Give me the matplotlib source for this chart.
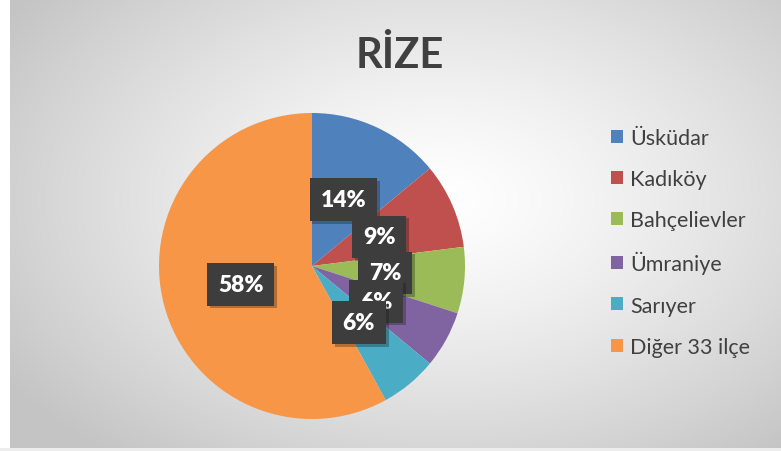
import numpy as np
import matplotlib
matplotlib.use("Agg")
import matplotlib.pyplot as plt
import matplotlib.patheffects as pe

categories = ["Üsküdar", "Kadıköy", "Bahçelievler", "Ümraniye", "Sarıyer", "Diğer 33 ilçe"]
values = [14, 9, 7, 6, 6, 58]
colors = ["#4F81BD", "#C0504D", "#9BBB59", "#8064A2", "#4BACC6", "#F79646"]
title = "RİZE"

plt.rcParams['font.family'] = ['Lato', 'DejaVu Sans']

W, H = 781, 452
fig = plt.figure(figsize=(W / 100, H / 100), dpi=100)

# background radial gradient
bg = fig.add_axes([0, 0, 1, 1])
yy, xx = np.mgrid[0:H, 0:W]
cx, cy = 440, 200
d = np.sqrt(((xx - cx) / 520.0) ** 2 + ((yy - cy) / 330.0) ** 2)
d = np.clip(d, 0, 1)
v = 1.0 - 0.23 * d ** 1.3
img = np.dstack([v, v, v])
img[:, :10, :] = 1.0
img[449:, :, :] = 0.93
bg.imshow(img, extent=[0, W, H, 0], aspect='auto', interpolation='bilinear')
bg.set_xlim(0, W)
bg.set_ylim(H, 0)
bg.axis('off')

# pie
cxp, cyp, r = 312, 267, 153
ax = fig.add_axes([(cxp - r) / W, (H - cyp - r) / H, 2 * r / W, 2 * r / H])
wedges, texts, autotexts = ax.pie(values, colors=colors, startangle=90, counterclock=False,
                                  autopct='%1.0f%%', pctdistance=0.48, radius=1,
                                  wedgeprops=dict(linewidth=0))
ax.set_xlim(-1, 1)
ax.set_ylim(-1, 1)
ax.set_aspect('equal')
ax.axis('off')

for t in autotexts:
    t.set_color('white')
    t.set_fontsize(16.5)
    t.set_fontweight('heavy')
    t.set_bbox(dict(boxstyle='square,pad=0.47', fc='#3d3d3d', ec='none'))
    t.get_bbox_patch().set_path_effects([pe.SimplePatchShadow(offset=(2, -2), alpha=0.3), pe.Normal()])

fig.text(400 / W, 1 - 55 / H, title, ha='center', va='center', fontsize=30,
         fontweight='bold', color='#404040')

leg = fig.legend(wedges, categories, loc='upper left', bbox_to_anchor=(611 / W, 1 - 129 / H),
                 frameon=False, fontsize=15.5, labelcolor='#404040',
                 handlelength=0.55, handleheight=0.55, handletextpad=0.35,
                 labelspacing=0.98, borderpad=0, borderaxespad=0)

fig.savefig('out.png', dpi=100)
